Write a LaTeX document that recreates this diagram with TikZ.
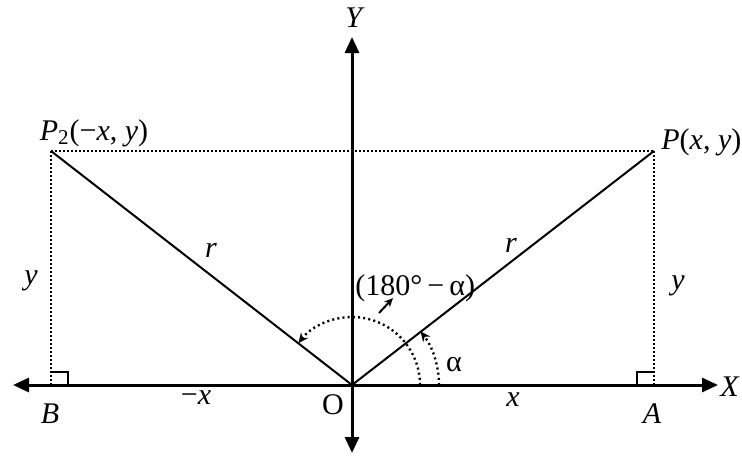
\documentclass[tikz,border=0pt]{standalone}
\usepackage{fontspec}
\setmainfont{Liberation Serif}
\usetikzlibrary{arrows.meta,calc}

\begin{document}
\begin{tikzpicture}[x=0.5pt,y=-0.5pt,font=\fontsize{15}{18}\selectfont,
  axis/.style={line width=1.5pt,{Triangle[length=8pt,width=7pt]}-{Triangle[length=8pt,width=7pt]}},
  ray/.style={line width=1pt},
  guide/.style={line width=1pt,dash pattern=on 1pt off 1pt},
  sweep/.style={line width=1.2pt,dash pattern=on 1pt off 1.6pt,-{Stealth[length=5pt,width=4.5pt]}},
  pointer/.style={line width=1pt,-{Stealth[length=4.5pt,width=4pt]}},
  lbl/.style={inner sep=0pt},
]
\useasboundingbox (0,0) rectangle (742,455);
% points
\coordinate (O) at (352,385);
\coordinate (P) at (654,151);
\coordinate (P2) at (51,151);
\coordinate (A) at (654,385);
\coordinate (B) at (51,385);
\coordinate (Xl) at (13,385);
\coordinate (Xr) at (718,385);
\coordinate (Yt) at (352,37);
\coordinate (Yb) at (352,453);
% axes
\draw[axis] (Xl) -- (Xr);
\draw[axis] (Yb) -- (Yt);
% rays and projections
\draw[ray] (O) -- (P);
\draw[ray] (O) -- (P2);
\draw[guide] (P2) -- (P);
\draw[guide] (P) -- (A);
\draw[guide] (P2) -- (B);
\draw[line width=0.8pt] ($(A)+(-17,0)$) |- ($(A)+(0,-13)$);
\draw[line width=0.8pt] ($(B)+(17,0)$) |- ($(B)+(0,-13)$);
% angles
\draw[sweep] ($(O)+(68,0)$) arc[start angle=0,end angle=-142,radius=68];
\draw[sweep] ($(O)+(87,0)$) arc[start angle=0,end angle=-38,radius=87];
% labels
\node[lbl] (Ylbl) at (355,18) {\textit{Y}};
\node[lbl,anchor=west] (Xlbl) at (720,387) {\textit{X}};
\node[lbl] (P2lbl) at (94,133) {\textit{P}\textsubscript{2}(−\textit{x}, \textit{y})};
\node[lbl,anchor=west] (Plbl) at (661,142) {\textit{P}(\textit{x}, \textit{y})};
\node[lbl] (yl) at (31,281) {\textit{y}};
\node[lbl] (yr) at (678,286) {\textit{y}};
\node[lbl] (rl) at (211,250) {\textit{r}};
\node[lbl] (rr) at (511,245) {\textit{r}};
\node[lbl,anchor=west] (ang) at (355,288) {(180°\,−\,α)};
\coordinate (tail) at (379,313);
\coordinate (tip) at (393,298);
\draw[pointer] (tail) -- (tip);
\node[lbl] (alpha) at (454,365) {α};
\node[lbl] (mx) at (196,398) {−\textit{x}};
\node[lbl] (px) at (513,400) {\textit{x}};
\node[lbl] (Olbl) at (333,405) {O};
\node[lbl] (Blbl) at (50,414) {\textit{B}};
\node[lbl] (Albl) at (652,414) {\textit{A}};
\end{tikzpicture}
\end{document}
